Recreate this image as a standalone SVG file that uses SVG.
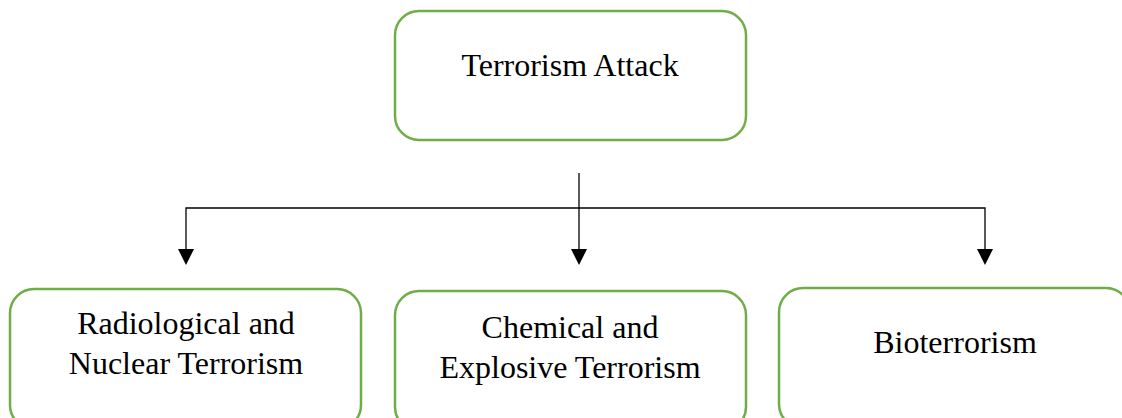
<svg xmlns="http://www.w3.org/2000/svg" width="1122" height="418" viewBox="0 0 1122 418">
<style>
.box{fill:#fff;stroke:#70AD47;stroke-width:2.5}
.t{font-family:"Liberation Serif","Times New Roman",serif;font-size:32px;fill:#000;text-anchor:middle}
.c{fill:none;stroke:#000;stroke-width:1.3}
.ah{fill:#000}
</style>
<rect width="1122" height="418" fill="#fff"/>
<g id="connectors">
<path class="c" d="M579 173 V250"/>
<path class="c" d="M186 250 V208 H985 V250"/>
<polygon class="ah" points="178,249 194,249 186,265"/>
<polygon class="ah" points="571,249 587,249 579,265"/>
<polygon class="ah" points="977,249 993,249 985,265"/>
</g>
<g id="n-top">
<rect class="box" x="395" y="11" width="351" height="129" rx="24"/>
<text class="t" x="570" y="76">Terrorism Attack</text>
</g>
<g id="n-rad">
<rect class="box" x="10" y="289" width="351" height="140" rx="24"/>
<text class="t" x="186" y="334">Radiological and</text>
<text class="t" x="186" y="374">Nuclear Terrorism</text>
</g>
<g id="n-chem">
<rect class="box" x="395" y="291" width="351" height="140" rx="24"/>
<text class="t" x="570" y="338">Chemical and</text>
<text class="t" x="570" y="378">Explosive Terrorism</text>
</g>
<g id="n-bio">
<rect class="box" x="779" y="288" width="351" height="140" rx="24"/>
<text class="t" x="955" y="353">Bioterrorism</text>
</g>
</svg>
